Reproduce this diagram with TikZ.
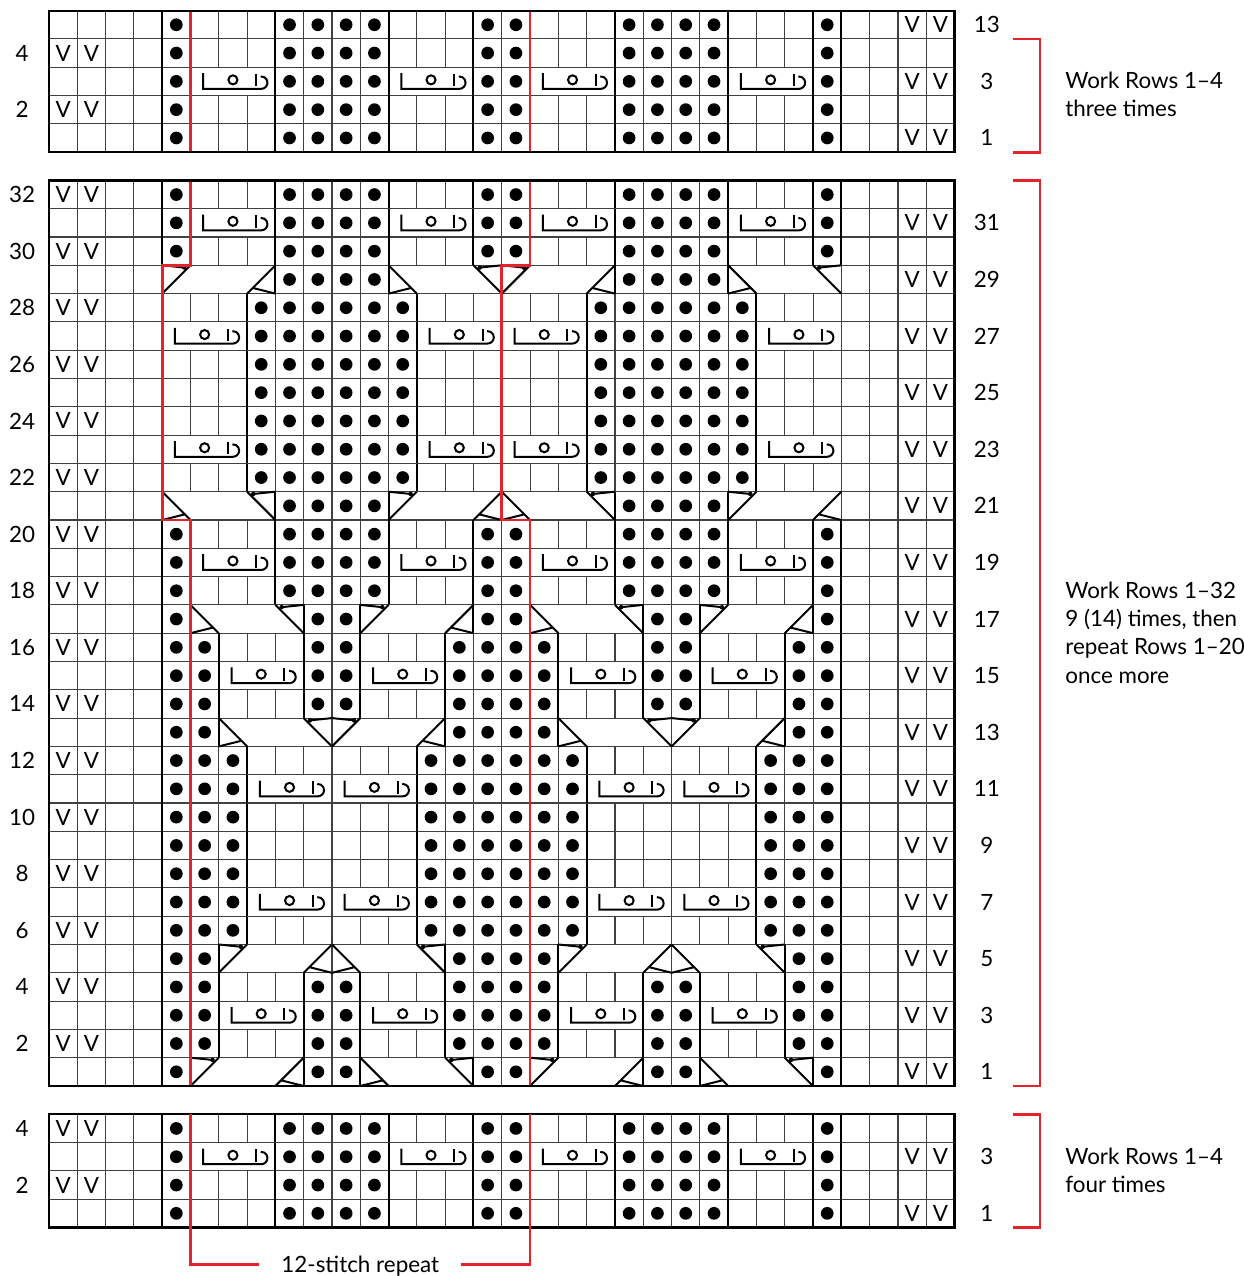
\documentclass[tikz,border=0pt]{standalone}
\usepackage{fontspec}
\setmainfont{Lato}
\usetikzlibrary{positioning, calc}
\usepackage{xcolor}
\definecolor{repred}{HTML}{E3242B}

% purl runs per row type: first/last column
\def\purlA{5/5,9/12,16/17,21/24,28/28}
\def\purlB{8/13,20/25}
\def\purlC{5/5,10/11,16/17,22/23,28/28}
\def\purlD{5/6,10/11,15/18,22/23,27/28}
\def\purlE{5/6,15/18,27/28}
\def\purlF{5/7,14/19,26/28}
\def\purlG{9/12,21/24}

% chart grid: #1 bottom, #2 top
\newcommand{\chartgrid}[2]{%
  \foreach \x in {0,...,32} {\draw[gridline] (\x,#1) -- (\x,#2);}
  \foreach \y in {#1,...,#2} {\draw[gridline] (0,\y) -- (32,\y);}}
% dots and bold run edges: #1 row bottom, #2 runs
\newcommand{\purls}[2]{%
  \foreach \a/\b in #2 {
    \foreach \c in {\a,...,\b} {\fill (\c-0.5,#1+0.5) circle (0.225);}
    \draw[runedge] (\a-1,#1) -- (\a-1,#1+1) (\b,#1) -- (\b,#1+1);
  }}
% 3-stitch cable symbol: #1 first col, #2 row bottom
\newcommand{\cablesym}[2]{%
  \begin{scope}[shift={(#1-1,#2)}]
    \filldraw[gridline, fill=white] (0,0) rectangle (3,1);
    \draw[sym] (0.45,0.79) -- (0.45,0.235) -- (2.5,0.235) arc[start angle=-90, end angle=95, radius=0.22];
    \draw[sym] (2.32,0.32) -- (2.32,0.765);
    \draw[sym] (1.5,0.553) circle (0.16);
  \end{scope}}
% 4-stitch cross leaning right
\newcommand{\crossR}[2]{%
  \begin{scope}[shift={(#1-1,#2)}]
    \filldraw[gridline, fill=white] (0,0) rectangle (4,1);
    \draw[sym] (0,0) -- (1,1) (0,1) -- (0.78,0.92);
    \fill (0.78,0.92) circle (0.08);
    \draw[sym] (3,0) -- (4,1) (4,0) -- (3.2,0.2);
  \end{scope}}
% 4-stitch cross leaning left
\newcommand{\crossL}[2]{%
  \begin{scope}[shift={(#1-1,#2)}]
    \filldraw[gridline, fill=white] (0,0) rectangle (4,1);
    \draw[sym] (0,1) -- (1,0) (0,0) -- (0.8,0.2);
    \draw[sym] (3,1) -- (4,0) (4,1) -- (3.22,0.92);
    \fill (3.22,0.92) circle (0.08);
  \end{scope}}
% slipped stitches: #1 first col, #2 row bottom
\newcommand{\slips}[2]{%
  \node[lbl] (sl#2a) at (#1-0.5,#2+0.5) {V};
  \node[lbl] (sl#2b) at (#1+0.5,#2+0.5) {V};}

\begin{document}
\begin{tikzpicture}[
    x=14.15pt, y=14.15pt,
    gridline/.style={draw=black!75, line width=0.55pt},
    runedge/.style={draw=black, line width=1pt},
    frame/.style={draw=black, line width=1.1pt},
    sym/.style={draw=black, line width=1pt},
    rep/.style={draw=repred, line width=1.4pt},
    lbl/.style={font=\fontsize{11.2}{14.15}\selectfont, inner sep=0pt},
    note/.style={font=\fontsize{11.2}{14.15}\selectfont, align=left, anchor=west, inner sep=0pt},
]
\useasboundingbox (-1.731,-6.714) rectangle (42.226,38.375);

% Grids
\chartgrid{33}{38}
\chartgrid{0}{32}
\chartgrid{-5}{-1}

% Top chart
\purls{37}{\purlA}
\purls{36}{\purlA}
\foreach \c in {6,13,18,25} {\cablesym{\c}{35}}
\purls{35}{\purlA}
\purls{34}{\purlA}
\purls{33}{\purlA}

% Main chart, rows 32-21
\purls{31}{\purlA}
\foreach \c in {6,13,18,25} {\cablesym{\c}{30}}
\purls{30}{\purlA}
\purls{29}{\purlA}
\crossR{5}{28} \crossL{13}{28} \crossR{17}{28} \crossL{25}{28}
\purls{28}{\purlG}
\foreach \y in {27,25,24,23,21} {\purls{\y}{\purlB}}
\foreach \y in {26,22} {
  \foreach \c in {5,14,17,26} {\cablesym{\c}{\y}}
  \purls{\y}{\purlB}}
\crossL{5}{20} \crossR{13}{20} \crossL{17}{20} \crossR{25}{20}
\purls{20}{\purlG}

% Main chart, rows 20-13
\purls{19}{\purlA}
\foreach \c in {6,13,18,25} {\cablesym{\c}{18}}
\purls{18}{\purlA}
\purls{17}{\purlA}
\crossL{6}{16} \crossR{12}{16} \crossL{18}{16} \crossR{24}{16}
\purls{16}{\purlC}
\purls{15}{\purlD}
\foreach \c in {7,12,19,24} {\cablesym{\c}{14}}
\purls{14}{\purlD}
\purls{13}{\purlD}
\crossL{7}{12} \crossR{11}{12} \crossL{19}{12} \crossR{23}{12}
\purls{12}{\purlE}

% Main chart, rows 12-1
\foreach \y in {11,9,8,7,5} {\purls{\y}{\purlF}}
\foreach \y in {10,6} {
  \foreach \c in {8,11,20,23} {\cablesym{\c}{\y}}
  \purls{\y}{\purlF}}
\crossR{7}{4} \crossL{11}{4} \crossR{19}{4} \crossL{23}{4}
\purls{4}{\purlE}
\purls{3}{\purlD}
\foreach \c in {7,12,19,24} {\cablesym{\c}{2}}
\purls{2}{\purlD}
\purls{1}{\purlD}
\crossR{6}{0} \crossL{12}{0} \crossR{18}{0} \crossL{24}{0}
\purls{0}{\purlC}

% Bottom chart
\purls{-2}{\purlA}
\foreach \c in {6,13,18,25} {\cablesym{\c}{-3}}
\purls{-3}{\purlA}
\purls{-4}{\purlA}
\purls{-5}{\purlA}

% Slipped stitches
\foreach \y in {1,3,...,31,34,36,-2,-4} {\slips{1}{\y}}
\foreach \y in {0,2,...,30,33,35,37,-3,-5} {\slips{31}{\y}}

% Repeat lines
\draw[rep] (5,33) -- (5,38);
\draw[rep] (17,33) -- (17,38);
\draw[rep] (5,32) -- (5,29) -- (4,29) -- (4,20) -- (5,20) -- (5,0);
\draw[rep] (17,32) -- (17,29) -- (16,29) -- (16,20) -- (17,20) -- (17,0);

% Frames
\draw[frame] (0,33) rectangle (32,38);
\draw[frame] (0,0) rectangle (32,32);
\draw[frame] (0,-5) rectangle (32,-1);

% Row numbers
\foreach \r in {2,4,...,32} {\node[lbl] (nl\r) at (-0.95,\r-0.5) {\r};}
\foreach \r in {1,3,...,31} {\node[lbl] (nr\r) at (33.14,\r-0.5) {\r};}
\node[lbl] (tl4) at (-0.95,36.5) {4};
\node[lbl] (tl2) at (-0.95,34.5) {2};
\node[lbl] (tr13) at (33.14,37.5) {13};
\node[lbl] (tr3) at (33.14,35.5) {3};
\node[lbl] (tr1) at (33.14,33.5) {1};
\node[lbl] (bl4) at (-0.95,-1.5) {4};
\node[lbl] (bl2) at (-0.95,-3.5) {2};
\node[lbl] (br3) at (33.14,-2.5) {3};
\node[lbl] (br1) at (33.14,-4.5) {1};

% Brackets and notes
\draw[rep] (34.06,37) -- (35.02,37) -- (35.02,33) -- (34.06,33);
\node[note] (topnote) at (35.9,35.05) {Work Rows 1–4\\three times};
\draw[rep] (34.06,32) -- (35.02,32) -- (35.02,0) -- (34.06,0);
\node[note] (mainnote) at (35.9,16.02) {Work Rows 1–32\\9 (14) times, then\\repeat Rows 1–20\\once more};
\draw[rep] (34.06,-1) -- (35.02,-1) -- (35.02,-5) -- (34.06,-5);
\node[note] (botnote) at (35.9,-2.97) {Work Rows 1–4\\four times};

% Stitch repeat
\node[lbl, anchor=base, inner xsep=11pt] (repeat) at (11,-6.6) {12-stitch repeat};
\coordinate (replevel) at (11,-6.32);
\draw[rep] (5,-1) |- (repeat.west |- replevel);
\draw[rep] (17,-1) |- (repeat.east |- replevel);

\end{tikzpicture}
\end{document}
